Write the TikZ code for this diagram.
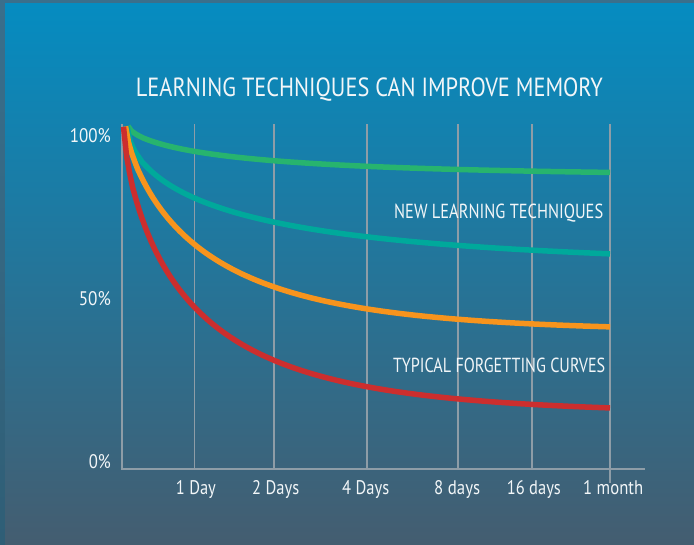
\documentclass[tikz,border=0pt]{standalone}
\usepackage{fontspec}
\setmainfont{PT Sans}
\usepackage{graphicx}
\definecolor{bgtop}{HTML}{058CC1}
\definecolor{bgbot}{HTML}{445D70}
\definecolor{frametop}{HTML}{3A6F8C}
\definecolor{framebot}{HTML}{2F5E76}
\definecolor{gridgray}{HTML}{8E9DA7}
\definecolor{labelwhite}{HTML}{F2F6F8}
\definecolor{cgreen}{HTML}{27B46E}
\definecolor{cteal}{HTML}{00A99B}
\definecolor{corange}{HTML}{F7941D}
\definecolor{cred}{HTML}{CC2E2E}
% text box of a given width and height
\newcommand\fitlbl[3]{\resizebox{#1pt}{#2pt}{#3}}
\tikzset{
  lbl/.style={inner sep=0pt, text=labelwhite},
  gridline/.style={draw=gridgray, line width=1.3pt},
  axisline/.style={draw=gridgray, line width=2.2pt},
  curve/.style={line width=5.5pt, line join=round, samples=160}
}
\begin{document}
\begin{tikzpicture}[x=1pt, y=-1pt]
\useasboundingbox (0,0) rectangle (694,544);
% frame and gradient background
\shade[top color=frametop, bottom color=framebot] (0,0) rectangle (694,544);
\shade[top color=bgtop, bottom color=bgbot] (5,3) rectangle (694,544);

% title
\node[lbl, anchor=base west] (title) at (135.7,96)
  {\fitlbl{467}{18.7}{LEARNING TECHNIQUES CAN IMPROVE MEMORY}};

% grid lines at the time marks
\draw[gridline] (194.7,124) -- (194.7,469);
\draw[gridline] (274,124) -- (274,469);
\draw[gridline] (367,124) -- (367,469);
\draw[gridline] (458,124) -- (458,469);
\draw[gridline] (532,124) -- (532,469);
\draw[gridline] (610,124) -- (610,483);

% axes
\coordinate (otop) at (122,124);
\coordinate (orig) at (122,469);
\coordinate (xend) at (645,469);
\draw[axisline] (otop) -- (orig) -- (xend);

% retention curves: stretched-exponential decay from 100%
\draw[cgreen, curve] plot[domain=128.02:610]
  (\x, {126+50.4*(1-exp(-((\x-128)/115)^0.65))});
\draw[cteal, curve] plot[domain=127.02:610]
  (\x, {126+142*(1-exp(-((\x-127)/120)^0.6))});
\draw[corange, curve] plot[domain=125.52:610]
  (\x, {126+206*(1-exp(-((\x-125.5)/85)^0.75))});
\draw[cred, curve] plot[domain=123.52:610]
  (\x, {126+288.3*(1-exp(-((\x-123.5)/72)^0.7))});

% curve group labels
\node[lbl, anchor=base west] (newlbl) at (394,218)
  {\fitlbl{209}{14.5}{NEW LEARNING TECHNIQUES}};
\node[lbl, anchor=base west] (typlbl) at (393,372)
  {\fitlbl{212}{14.5}{TYPICAL FORGETTING CURVES}};

% percentage labels
\node[lbl, anchor=base east] (p100) at (111,142) {\fitlbl{41}{14}{100\%}};
\node[lbl, anchor=base east] (p50) at (111,305) {\fitlbl{32}{14}{50\%}};
\node[lbl, anchor=base east] (p0) at (111,468) {\fitlbl{22}{14}{0\%}};

% time labels
\node[lbl, anchor=base west] (t1) at (175.7,494) {\fitlbl{40}{14}{1 Day}};
\node[lbl, anchor=base west] (t2) at (252,494) {\fitlbl{47}{14}{2 Days}};
\node[lbl, anchor=base west] (t4) at (342,494) {\fitlbl{47}{14}{4 Days}};
\node[lbl, anchor=base west] (t8) at (434,494) {\fitlbl{46}{14}{8 days}};
\node[lbl, anchor=base west] (t16) at (506.7,494) {\fitlbl{54}{14}{16 days}};
\node[lbl, anchor=base west] (tm) at (583,494) {\fitlbl{60}{14}{1 month}};
\end{tikzpicture}
\end{document}
